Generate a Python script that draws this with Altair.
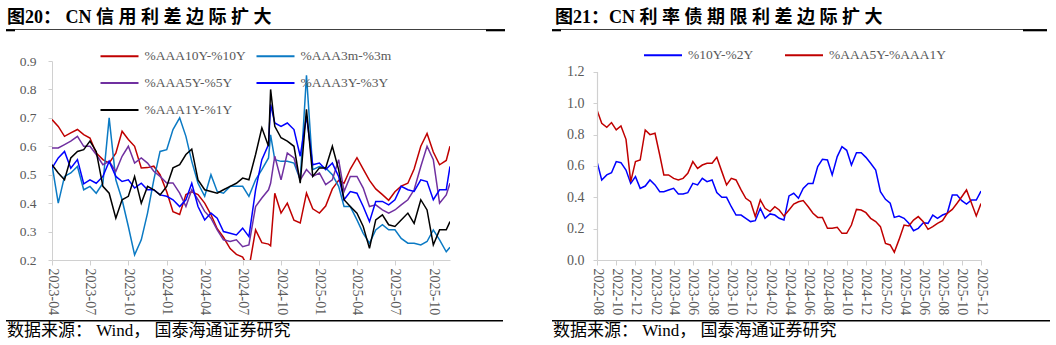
import altair as alt
import pandas as pd

# ---------------- data : left panel ----------------
left_series = ["%AAA10Y-%10Y", "%AAA3m-%3m", "%AAA5Y-%5Y", "%AAA3Y-%3Y", "%AAA1Y-%1Y"]
left_colors = ["#C00000", "#0B7AC4", "#7030A0", "#0000FF", "#000000"]


def half_month_dates(year, month, count):
    out = []
    while len(out) < count:
        out.append(f"{year:04d}-{month:02d}-01")
        if len(out) < count:
            out.append(f"{year:04d}-{month:02d}-16")
        month += 1
        if month > 12:
            month = 1
            year += 1
    return out


left_dates = half_month_dates(2023, 4, 63)
left_dates.insert(35, "2024-09-06")
left_dates.append("2025-11-10")

aaa10y = [0.694, 0.67, 0.635, 0.647, 0.659, 0.641, 0.629, 0.576, 0.553, 0.541,
          0.576, 0.653, 0.624, 0.60, 0.524, 0.525, 0.53, 0.50, 0.44, 0.37,
          0.36, 0.43, 0.44, 0.43, 0.40, 0.36, 0.31, 0.28, 0.24, 0.22,
          0.21, 0.17, 0.306, 0.261, 0.256, 0.25,
          0.435, 0.365, 0.40, 0.34, 0.33, 0.435, 0.38, 0.365, 0.39, 0.45,
          0.48, 0.47, 0.52, 0.56, 0.52, 0.48, 0.45, 0.43, 0.41, 0.44,
          0.46, 0.47, 0.52, 0.60, 0.645, 0.58, 0.535, 0.55,
          0.60]
aaa3m = [0.535, 0.40, 0.494, 0.506, 0.529, 0.447, 0.459, 0.435, 0.47, 0.70,
         0.482, 0.412, 0.318, 0.218, 0.271, 0.365, 0.482, 0.582, 0.588, 0.659,
         0.70, 0.635, 0.547, 0.47, 0.424, 0.50, 0.441, 0.435, 0.459, 0.459,
         0.459, 0.424, 0.482, 0.518, 0.559, 0.64,
         0.553, 0.547, 0.547, 0.541, 0.482, 0.85, 0.518, 0.529, 0.524, 0.50,
         0.459, 0.388, 0.388, 0.341, 0.294, 0.259, 0.306, 0.324, 0.306, 0.306,
         0.276, 0.259, 0.259, 0.253, 0.265, 0.306, 0.271, 0.229,
         0.245]
aaa5y = [0.594, 0.594, 0.606, 0.618, 0.635, 0.60, 0.60, 0.571, 0.535, 0.547,
         0.512, 0.565, 0.60, 0.541, 0.559, 0.541, 0.512, 0.494, 0.471, 0.471,
         0.435, 0.388, 0.447, 0.412, 0.371, 0.347, 0.306, 0.271, 0.265, 0.271,
         0.247, 0.253, 0.388, 0.418, 0.447, 0.47,
         0.565, 0.482, 0.576, 0.559, 0.482, 0.518, 0.494, 0.506, 0.465, 0.482,
         0.553, 0.441, 0.494, 0.494, 0.453, 0.388, 0.394, 0.376, 0.365, 0.376,
         0.394, 0.412, 0.447, 0.529, 0.60, 0.553, 0.40, 0.429,
         0.47]
aaa3y = [0.523, 0.559, 0.582, 0.523, 0.553, 0.468, 0.482, 0.47, 0.494, 0.547,
         0.494, 0.476, 0.482, 0.453, 0.47, 0.447, 0.447, 0.429, 0.424, 0.412,
         0.388, 0.412, 0.47, 0.388, 0.341, 0.365, 0.347, 0.30, 0.294, 0.288,
         0.312, 0.282, 0.447, 0.553, 0.606, 0.747,
         0.682, 0.67, 0.682, 0.659, 0.565, 0.706, 0.535, 0.541, 0.518, 0.541,
         0.494, 0.412, 0.441, 0.435, 0.388, 0.335, 0.406, 0.406, 0.394, 0.412,
         0.459, 0.447, 0.441, 0.482, 0.476, 0.412, 0.447, 0.447,
         0.529]
aaa1y = [0.535, 0.506, 0.482, 0.559, 0.582, 0.588, 0.618, 0.582, 0.459, 0.435,
         0.347, 0.412, 0.424, 0.494, 0.40, 0.459, 0.447, 0.429, 0.459, 0.524,
         0.535, 0.571, 0.59, 0.482, 0.447, 0.441, 0.435, 0.447, 0.459, 0.47,
         0.488, 0.482, 0.571, 0.665, 0.60, 0.80,
         0.67, 0.63, 0.618, 0.60, 0.47, 0.73, 0.494, 0.524, 0.524, 0.60,
         0.518, 0.412, 0.388, 0.365, 0.318, 0.241, 0.341, 0.359, 0.324, 0.318,
         0.341, 0.365, 0.329, 0.412, 0.376, 0.253, 0.306, 0.306,
         0.335]

left_ticks = ["2023-04", "2023-07", "2023-10", "2024-01", "2024-04", "2024-07",
              "2024-10", "2025-01", "2025-04", "2025-07", "2025-10"]
left_y_ticks = [0.2, 0.3, 0.4, 0.5, 0.6, 0.7, 0.8, 0.9]

# ---------------- data : right panel ----------------
right_series = ["%10Y-%2Y", "%AAA5Y-%AAA1Y"]
right_colors = ["#0000FF", "#C00000"]
right_dates = half_month_dates(2022, 8, 81)

spread_10y_2y = [0.628, 0.511, 0.543, 0.557, 0.628, 0.621, 0.574, 0.489, 0.532, 0.457,
                 0.472, 0.511, 0.479, 0.436, 0.436, 0.447, 0.457, 0.421, 0.421, 0.43,
                 0.489, 0.479, 0.521, 0.50, 0.511, 0.43, 0.40, 0.40, 0.34, 0.287,
                 0.287, 0.266, 0.245, 0.251, 0.33, 0.266, 0.294, 0.287, 0.266, 0.255,
                 0.409, 0.426, 0.394, 0.457, 0.489, 0.489, 0.596, 0.643, 0.638, 0.543,
                 0.66, 0.723, 0.70, 0.606, 0.685, 0.685, 0.655, 0.617, 0.574, 0.436,
                 0.387, 0.362, 0.272, 0.281, 0.266, 0.234, 0.187, 0.202, 0.238, 0.234,
                 0.287, 0.266, 0.287, 0.298, 0.415, 0.415, 0.379, 0.357, 0.383, 0.383,
                 0.44]
spread_aaa5y_1y = [0.957, 0.872, 0.847, 0.877, 0.83, 0.855, 0.77, 0.50, 0.628, 0.638,
                   0.83, 0.80, 0.809, 0.67, 0.543, 0.543, 0.521, 0.511, 0.521, 0.553,
                   0.628, 0.585, 0.606, 0.617, 0.617, 0.655, 0.564, 0.479, 0.521, 0.511,
                   0.447, 0.394, 0.372, 0.277, 0.383, 0.33, 0.309, 0.34, 0.319, 0.28,
                   0.319, 0.357, 0.372, 0.379, 0.34, 0.298, 0.272, 0.272, 0.202, 0.202,
                   0.209, 0.17, 0.17, 0.223, 0.323, 0.319, 0.302, 0.266, 0.245, 0.213,
                   0.106, 0.096, 0.05, 0.13, 0.223, 0.217, 0.255, 0.277, 0.245, 0.196,
                   0.213, 0.234, 0.251, 0.298, 0.323, 0.362, 0.404, 0.447, 0.362, 0.281,
                   0.36]

right_ticks = ["2022-08", "2022-10", "2022-12", "2023-02", "2023-04", "2023-06",
               "2023-08", "2023-10", "2023-12", "2024-02", "2024-04", "2024-06",
               "2024-08", "2024-10", "2024-12", "2025-02", "2025-04", "2025-06",
               "2025-08", "2025-10", "2025-12"]
right_y_ticks = [0.0, 0.2, 0.4, 0.6, 0.8, 1.0, 1.2]
right_y_top = 1.27  # headroom above the 1.2 tick (plot area begins above it)
right_axis_span = pd.DataFrame({"y0": [0.0], "y1": [1.2]})

title_left = "图20：  CN  信 用 利 差 边 际 扩 大"
title_right = "图21：CN 利 率 债 期 限 利 差 边 际 扩 大"
source_text = "数据来源： Wind， 国泰海通证券研究"

SERIF = "Liberation Serif, Noto Sans CJK SC"
GRAY = "#595959"
AXIS_GRAY = "#D0D0D0"


def ym(s):
    y, m = s.split("-")
    return alt.DateTime(year=int(y), month=int(m), date=1, utc=True)


def long_frame(dates, names, lists):
    rows = []
    for name, vals in zip(names, lists):
        for d, v in zip(dates, vals):
            rows.append({"date": d, "series": name, "value": v})
    return pd.DataFrame(rows)


left_df = long_frame(left_dates, left_series, [aaa10y, aaa3m, aaa5y, aaa3y, aaa1y])
right_df = long_frame(right_dates, right_series, [spread_10y_2y, spread_aaa5y_1y])

one = pd.DataFrame({"k": [0]})


def decorations(frame, title, title_x, title_y, rule_y, rule_x1, rule_x2,
                bottom_y, bottom_x2, src_x, src_y, thick_right_x1):
    layers = []
    layers.append(alt.Chart(one).mark_rect(opacity=0).encode(
        x=alt.value(frame[0]), x2=alt.value(frame[1]),
        y=alt.value(frame[2]), y2=alt.value(frame[3])))
    layers.append(alt.Chart(pd.DataFrame({"t": [title]})).mark_text(
        align="left", baseline="alphabetic", font=SERIF, fontSize=18,
        fontWeight="bold", color="#000000").encode(
        text="t:N", x=alt.value(title_x), y=alt.value(title_y)))
    layers.append(alt.Chart(one).mark_rule(color="#404040", strokeWidth=1).encode(
        x=alt.value(rule_x1), x2=alt.value(rule_x2), y=alt.value(rule_y)))
    layers.append(alt.Chart(one).mark_rule(color="#000000", strokeWidth=2).encode(
        x=alt.value(rule_x1), x2=alt.value(rule_x1 + 9), y=alt.value(rule_y + 0.8)))
    layers.append(alt.Chart(one).mark_rule(color="#000000", strokeWidth=2).encode(
        x=alt.value(thick_right_x1), x2=alt.value(rule_x2), y=alt.value(rule_y + 0.8)))
    layers.append(alt.Chart(one).mark_rule(color="#000000", strokeWidth=1.5).encode(
        x=alt.value(rule_x1), x2=alt.value(bottom_x2), y=alt.value(bottom_y)))
    layers.append(alt.Chart(pd.DataFrame({"t": [source_text]})).mark_text(
        align="left", baseline="middle", font=SERIF, fontSize=17,
        color="#000000").encode(text="t:N", x=alt.value(src_x), y=alt.value(src_y)))
    return layers


# ---------------- left panel ----------------
left_lines = alt.Chart(left_df).mark_line(strokeWidth=1.5, clip=True).encode(
    x=alt.X("date:T", title=None,
            scale=alt.Scale(type="utc", domain=[ym("2023-04"),
                                                alt.DateTime(year=2025, month=11, date=10, utc=True)]),
            axis=alt.Axis(values=[ym(t) for t in left_ticks], format="%Y-%m",
                          labelAngle=90, labelFont="Liberation Serif", labelFontSize=14,
                          labelColor=GRAY, domainColor=AXIS_GRAY, tickColor=AXIS_GRAY,
                          tickSize=5, labelPadding=3, grid=False, labelOverlap=False)),
    y=alt.Y("value:Q", title=None,
            scale=alt.Scale(domain=[0.2, 0.9], nice=False, zero=False),
            axis=alt.Axis(values=left_y_ticks, format=".1f", labelFont="Liberation Serif",
                          labelFontSize=13.5, labelColor=GRAY, domainColor=AXIS_GRAY,
                          tickColor=AXIS_GRAY, tickSize=4, labelPadding=12, grid=False,
                          labelOverlap=False)),
    color=alt.Color("series:N", sort=left_series,
                    scale=alt.Scale(domain=left_series, range=left_colors),
                    legend=alt.Legend(title=None, orient="none", legendX=47.5, legendY=-25,
                                      columns=2, direction="horizontal",
                                      symbolType="stroke", symbolSize=1444,
                                      symbolStrokeWidth=2, labelFont="Liberation Serif",
                                      labelFontSize=13.5, labelColor=GRAY, labelOffset=5,
                                      rowPadding=-13, columnPadding=6, padding=0,
                                      labelLimit=300)),
)

left_panel = alt.layer(
    *decorations(frame=(-52, 476, -61, 284), title=title_left, title_x=-45, title_y=-37.7,
                 rule_y=-31.5, rule_x1=-46, rule_x2=453, bottom_y=259.7, bottom_x2=451,
                 src_x=-45, src_y=270, thick_right_x1=434),
    left_lines,
).properties(width=398, height=199)

# ---------------- right panel ----------------
right_y_axis = alt.Axis(values=right_y_ticks, format=".1f", labelFont="Liberation Serif",
                        labelFontSize=14, labelColor=GRAY, domain=False,
                        tickColor=AXIS_GRAY, tickSize=4, labelPadding=9, grid=False,
                        labelOverlap=False)

right_lines = alt.Chart(right_df).mark_line(strokeWidth=1.5, clip=True).encode(
    x=alt.X("date:T", title=None,
            scale=alt.Scale(type="utc", domain=[ym("2022-08"), ym("2025-12")]),
            axis=alt.Axis(values=[ym(t) for t in right_ticks], format="%Y-%m",
                          labelAngle=90, labelFont="Liberation Serif", labelFontSize=14,
                          labelColor=GRAY, domainColor=AXIS_GRAY, tickColor=AXIS_GRAY,
                          tickSize=5, labelPadding=3, grid=False, labelOverlap=False)),
    y=alt.Y("value:Q", title=None,
            scale=alt.Scale(domain=[0.0, right_y_top], nice=False),
            axis=right_y_axis),
    color=alt.Color("series:N", sort=right_series,
                    scale=alt.Scale(domain=right_series, range=right_colors),
                    legend=alt.Legend(title=None, orient="none", legendX=46, legendY=-26,
                                      columns=2, direction="horizontal",
                                      symbolType="stroke", symbolSize=1444,
                                      symbolStrokeWidth=2, labelFont="Liberation Serif",
                                      labelFontSize=13.5, labelColor=GRAY, labelOffset=5,
                                      columnPadding=27, padding=0, labelLimit=300)),
)

right_axis_line = alt.Chart(right_axis_span).mark_rule(color=AXIS_GRAY, strokeWidth=1.2).encode(
    x=alt.value(0.5),
    y=alt.Y("y0:Q", title=None, scale=alt.Scale(domain=[0.0, right_y_top], nice=False),
            axis=right_y_axis),
    y2="y1:Q")

right_panel = alt.layer(
    *decorations(frame=(-69, 459, -61, 284), title=title_right, title_x=-42, title_y=-37.7,
                 rule_y=-31.5, rule_x1=-45, rule_x2=450, bottom_y=259.7, bottom_x2=453,
                 src_x=-44, src_y=270, thick_right_x1=426),
    right_lines,
    right_axis_line,
).properties(width=384, height=199)

chart = alt.hconcat(left_panel, right_panel, spacing=0).resolve_scale(
    color="independent", x="independent", y="independent"
).resolve_legend(color="independent").properties(padding=0).configure_view(stroke=None)

chart.save("out.html", embed_options={"renderer": "svg", "actions": False})
